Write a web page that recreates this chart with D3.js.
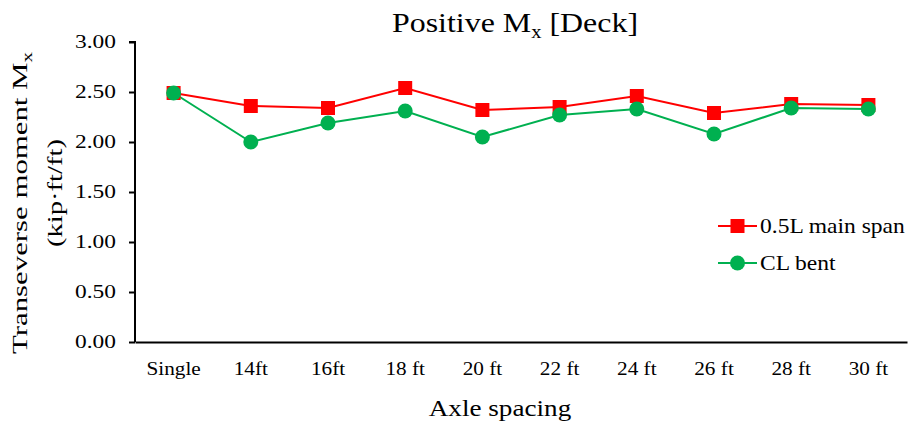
<!DOCTYPE html>
<html>
<head>
<meta charset="utf-8">
<script src="https://cdn.jsdelivr.net/npm/d3@7"></script>
<style>
  html, body { margin: 0; padding: 0; background: #fff; }
  svg text { font-family: "Liberation Serif", "Times New Roman", serif; fill: #000; }
</style>
</head>
<body>
<svg id="chart" width="913" height="427"></svg>
<script>
// Axle spacing categories and the two moment series (kip·ft/ft)
const categories = ["Single", "14ft", "16ft", "18 ft", "20 ft", "22 ft", "24 ft", "26 ft", "28 ft", "30 ft"];
const midSpan = [2.49, 2.36, 2.34, 2.54, 2.32, 2.35, 2.46, 2.29, 2.38, 2.37];
const clBent  = [2.49, 2.00, 2.19, 2.31, 2.05, 2.27, 2.33, 2.08, 2.34, 2.33];
const yTicks = [0, 0.5, 1.0, 1.5, 2.0, 2.5, 3.0];
const seriesNames = ["0.5L main span", "CL bent"];

const svg = d3.select("#chart");
const m = { left: 135, right: 6, top: 42, bottom: 85 };
const W = 913, H = 427;

const x = d3.scaleBand().domain(categories).range([m.left, W - m.right]);
const y = d3.scaleLinear().domain([0, 3]).range([H - m.bottom, m.top]);

// widen glyphs horizontally by a factor, keeping the anchor
function widen(sel, k) {
  sel.each(function () {
    const len = this.getComputedTextLength();
    d3.select(this).attr("textLength", len * k).attr("lengthAdjust", "spacingAndGlyphs");
  });
}

// Y axis
const yAxis = svg.append("g")
  .attr("transform", `translate(${m.left},0)`)
  .call(d3.axisLeft(y).tickValues(yTicks).tickFormat(d3.format(".2f")).tickSize(6).tickPadding(13));
yAxis.select(".domain").attr("stroke", "#000").attr("stroke-width", 2).attr("d", `M-6,${y(3)}H0V${y(0)}`);
yAxis.selectAll(".tick line").attr("stroke", "#000").attr("stroke-width", 2);
yAxis.selectAll(".tick text").style("font-size", "18px").attr("font-family", "Liberation Serif");
widen(yAxis.selectAll(".tick text"), 1.3);

// X axis
const xAxis = svg.append("g")
  .attr("transform", `translate(0,${y(0)})`)
  .call(d3.axisBottom(x).tickSize(0).tickPadding(20));
xAxis.select(".domain").attr("stroke", "#000").attr("stroke-width", 2);
xAxis.selectAll(".tick text").style("font-size", "18px").attr("font-family", "Liberation Serif");
widen(xAxis.selectAll(".tick text"), 1.18);

const cx = d => x(d) + x.bandwidth() / 2;
const line = d3.line().x((v, i) => cx(categories[i])).y(v => y(v));

// CL bent (green circles)
svg.append("path").datum(clBent).attr("d", line)
  .attr("fill", "none").attr("stroke", "#00b050").attr("stroke-width", 2);
// 0.5L main span (red squares)
svg.append("path").datum(midSpan).attr("d", line)
  .attr("fill", "none").attr("stroke", "#ff0000").attr("stroke-width", 2);

const sq = 14;
svg.append("g").selectAll("rect").data(midSpan).join("rect")
  .attr("x", (v, i) => cx(categories[i]) - sq / 2)
  .attr("y", v => y(v) - sq / 2)
  .attr("width", sq).attr("height", sq).attr("fill", "#ff0000");
svg.append("g").selectAll("circle").data(clBent).join("circle")
  .attr("cx", (v, i) => cx(categories[i]))
  .attr("cy", v => y(v))
  .attr("r", 7.5).attr("fill", "#00b050");

// Legend
const leg = svg.append("g");
const lx0 = 718, lx1 = 757, ly = [226, 263];
leg.append("line").attr("x1", lx0).attr("x2", lx1).attr("y1", ly[0]).attr("y2", ly[0])
  .attr("stroke", "#ff0000").attr("stroke-width", 2);
leg.append("rect").attr("x", (lx0 + lx1) / 2 - sq / 2).attr("y", ly[0] - sq / 2)
  .attr("width", sq).attr("height", sq).attr("fill", "#ff0000");
leg.append("line").attr("x1", lx0).attr("x2", lx1).attr("y1", ly[1]).attr("y2", ly[1])
  .attr("stroke", "#00b050").attr("stroke-width", 2);
leg.append("circle").attr("cx", (lx0 + lx1) / 2).attr("cy", ly[1]).attr("r", 7.5).attr("fill", "#00b050");
const legText = leg.selectAll("text.leg").data(seriesNames).join("text").attr("class", "leg")
  .attr("x", 760).attr("y", (d, i) => ly[i]).attr("dy", "0.35em")
  .style("font-size", "21px").text(d => d);
widen(legText, 1.12);

// Title
const title = svg.append("text").attr("x", 515).attr("y", 32).attr("text-anchor", "middle")
  .style("font-size", "28px");
title.append("tspan").text("Positive M");
title.append("tspan").attr("dy", 6).style("font-size", "18px").text("x");
title.append("tspan").attr("dy", -6).text(" [Deck]");
widen(title, 1.14);

// X axis title
const xt = svg.append("text").attr("x", 500).attr("y", 416).attr("text-anchor", "middle")
  .style("font-size", "23px").text("Axle spacing");
widen(xt, 1.18);

// Y axis title (two lines)
const yt = svg.append("text").attr("transform", `translate(27,203) rotate(-90)`)
  .attr("text-anchor", "middle").style("font-size", "22px");
yt.append("tspan").text("Transeverse moment M");
yt.append("tspan").attr("dy", 5).style("font-size", "15px").text("x");
widen(yt, 1.4);
const yt2 = svg.append("text").attr("transform", `translate(62,193) rotate(-90)`)
  .attr("text-anchor", "middle").style("font-size", "22px").text("(kip·ft/ft)");
widen(yt2, 1.3);
</script>
</body>
</html>
